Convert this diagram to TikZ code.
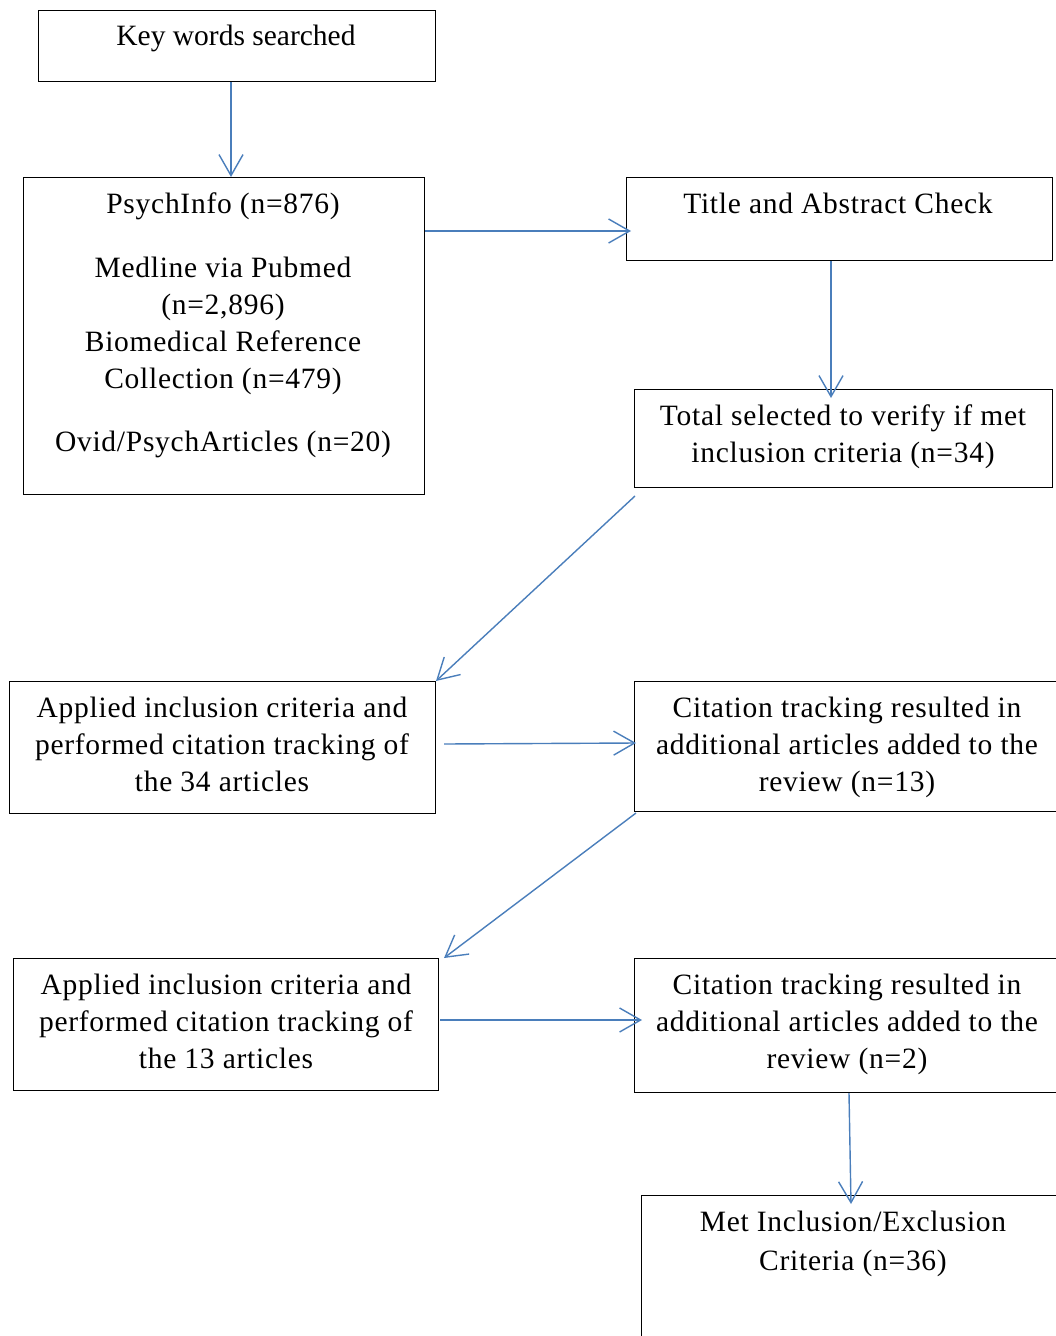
\documentclass[tikz,border=0pt]{standalone}
\usepackage{fontspec}
\setmainfont{Liberation Serif}
\newfontfamily\spacedfont[LetterSpace=2.5]{Liberation Serif}
\usetikzlibrary{arrows.meta,calc}
\definecolor{arrblue}{RGB}{74,126,187}
\begin{document}
\begin{tikzpicture}[x=1pt,y=-1pt,
  boxnode/.style={draw=black,line width=1pt,rectangle,inner sep=0pt,anchor=north west},
  txt/.style={anchor=north,inner sep=0pt,align=center,font=\spacedfont\fontsize{29.5}{37}\selectfont},
  arr/.style={draw=arrblue,line width=1.4pt,-{Straight Barb[length=21pt,width=24pt,line width=1.4pt]}}]
\useasboundingbox (0,0) rectangle (1056,1336);
% boxes
\node[boxnode,minimum width=397pt,minimum height=71pt] (key) at (38,10) {};
\node[boxnode,minimum width=401pt,minimum height=317pt] (psych) at (23,177) {};
\node[boxnode,minimum width=426pt,minimum height=83pt] (title) at (626,177) {};
\node[boxnode,minimum width=418pt,minimum height=98pt] (total) at (634,389) {};
\node[boxnode,minimum width=426pt,minimum height=132pt] (app1) at (9,681) {};
\node[boxnode,minimum width=430pt,minimum height=130pt] (cit1) at (634,681) {};
\node[boxnode,minimum width=425pt,minimum height=132pt] (app2) at (13,958) {};
\node[boxnode,minimum width=430pt,minimum height=134pt] (cit2) at (634,958) {};
\node[boxnode,minimum width=423pt,minimum height=150pt] (met) at (641,1195) {};
% texts
\node[txt,font=\rmfamily\fontsize{29.5}{37}\selectfont] (keyT) at (236,19) {\strut Key words searched};
\node[txt] (psychT) at (223,187) {\strut PsychInfo (n=876)\\[27pt]
  Medline via Pubmed\\(n=2,896)\\Biomedical Reference\\Collection (n=479)\\[26pt]
  Ovid/PsychArticles (n=20)};
\node[txt] (titleT) at (838,187) {\strut Title and Abstract Check};
\node[txt] (totalT) at (843,399) {\strut Total selected to verify if met\\inclusion criteria (n=34)};
\node[txt] (app1T) at (222,691) {\strut Applied inclusion criteria and\\performed citation tracking of\\the 34 articles};
\node[txt] (cit1T) at (847,691) {\strut Citation tracking resulted in\\additional articles added to the\\review (n=13)};
\node[txt] (app2T) at (226,968) {\strut Applied inclusion criteria and\\performed citation tracking of\\the 13 articles};
\node[txt] (cit2T) at (847,968) {\strut Citation tracking resulted in\\additional articles added to the\\review (n=2)};
\node[txt] (metT) at (853,1205) {\strut Met Inclusion/Exclusion\\[2pt]Criteria (n=36)};
% connectors
\draw[arr] ($(key.south west)+(193,0)$) -- ($(psych.north west)+(208,0)$);
\draw[arr] ($(psych.north east)+(0,54)$) -- ($(title.north west)+(5,54)$);
\draw[arr] ($(title.south west)+(205,0)$) -- ($(total.north west)+(197,9)$);
\draw[arr] ($(total.south west)+(1,8)$) -- (app1.north east);
\draw[arr] ($(app1.north east)+(8,63)$) -- ($(cit1.north west)+(2,62)$);
\draw[arr] ($(cit1.south west)+(2,1)$) -- ($(app2.north east)+(5,0)$);
\draw[arr] ($(app2.north east)+(1,62)$) -- ($(cit2.north west)+(8,62)$);
\draw[arr] ($(cit2.south west)+(215,0)$) -- ($(met.north west)+(210,9)$);
\end{tikzpicture}
\end{document}
